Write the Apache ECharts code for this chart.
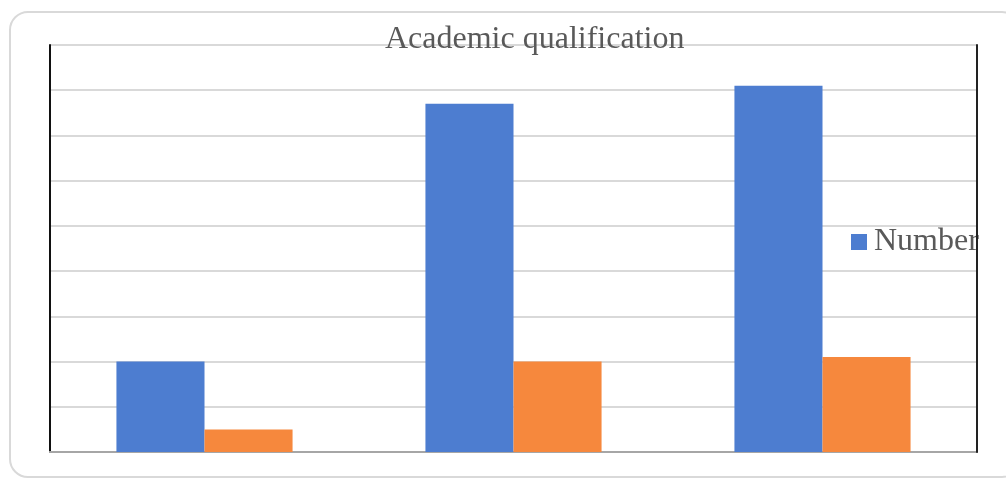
<!DOCTYPE html>
<html>
<head>
<meta charset="utf-8">
<style>
  html, body { margin: 0; padding: 0; background: #fff; }
  #chart { width: 1006px; height: 481px; }
</style>
<script src="https://cdn.jsdelivr.net/npm/echarts@6/dist/echarts.min.js"></script>
</head>
<body>
<div id="chart"></div>
<script>
// data
const CATEGORIES = ["", "", ""];
const NUMBER_VALUES = [20, 77, 81];
const SECOND_VALUES = [5, 20, 21];

const BLUE = "#4d7dd0";
const ORANGE = "#f6883d";

const chart = echarts.init(document.getElementById("chart"));
chart.setOption({
  animation: false,
  title: {
    text: "Academic qualification",
    left: 380,
    top: 19,
    padding: [5, 5, 5, 5],
    z: 10,
    textStyle: { fontFamily: "Liberation Serif", fontWeight: "normal", fontSize: 32, color: "#595959" },
  },
  graphic: [{
    type: "rect",
    shape: { x: 10, y: 12, width: 1010, height: 465, r: 18 },
    style: { fill: "none", stroke: "#d9d9d9", lineWidth: 2 },
    z: -1,
  }],
  legend: {
    data: ["Number"],
    left: 851,
    top: 226,
    padding: 0,
    z: 1,
    icon: "rect",
    itemWidth: 16,
    itemHeight: 16,
    itemGap: 6,
    textStyle: { fontFamily: "Liberation Serif", fontSize: 32, color: "#595959", padding: [2, 0, 0, 2] },
  },
  grid: { left: 50, right: 29, top: 45, bottom: 29 },
  xAxis: [{
    type: "category",
    data: CATEGORIES,
    axisLine: { lineStyle: { color: "#a0a0a0", width: 2 } },
    axisTick: { show: false },
    axisLabel: { show: false },
  }, {
    type: "category",
    position: "top",
    data: CATEGORIES,
    axisLine: { lineStyle: { color: "#a6a6a6", width: 2 } },
    axisTick: { show: false },
    axisLabel: { show: false },
  }],
  yAxis: [{
    type: "value",
    min: 0,
    max: 90,
    interval: 10,
    axisLine: { show: true, lineStyle: { color: "#111", width: 2 } },
    axisTick: { show: false },
    axisLabel: { show: false },
    splitLine: { lineStyle: { color: "#d9d9d9", width: 2 } },
  }, {
    type: "value",
    position: "right",
    min: 0,
    max: 90,
    interval: 10,
    z: 5,
    axisLine: { show: true, lineStyle: { color: "#222", width: 2 } },
    axisTick: { show: false },
    axisLabel: { show: false },
    splitLine: { show: false },
  }],
  series: [{
    name: "Number",
    type: "bar",
    data: NUMBER_VALUES,
    barGap: "0%",
    barCategoryGap: "43%",
    itemStyle: { color: BLUE },
  }, {
    name: "Other",
    type: "bar",
    data: SECOND_VALUES,
    itemStyle: { color: ORANGE },
  }],
});
</script>
</body>
</html>
